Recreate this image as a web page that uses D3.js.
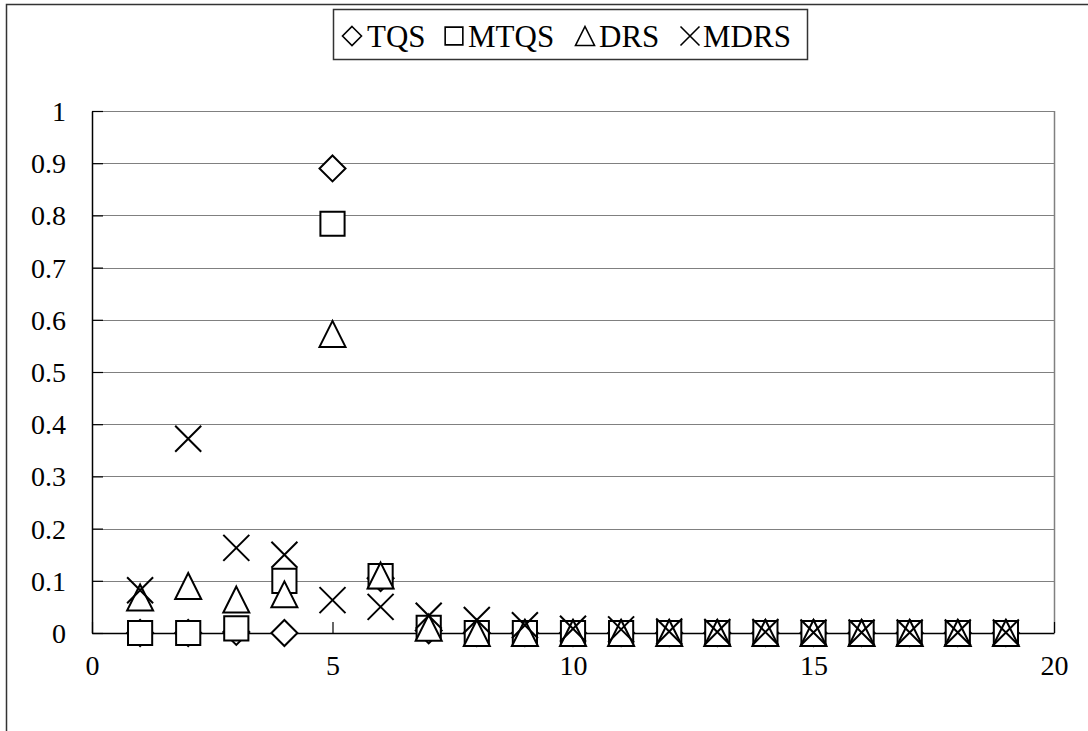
<!DOCTYPE html>
<html>
<head>
<meta charset="utf-8">
<script src="https://cdn.jsdelivr.net/npm/d3@7"></script>
<style>
  html, body { margin: 0; padding: 0; background: #fff; }
  svg { display: block; }
  svg text { font-family: "Liberation Serif", "Times New Roman", Times, serif !important; fill: #000; }
</style>
</head>
<body>
<svg id="chart" width="1088" height="731"></svg>
<script>
// Series values for x = 1..19
const xValues = [1,2,3,4,5,6,7,8,9,10,11,12,13,14,15,16,17,18,19];
const tqs  = [0, 0, 0.002, 0, 0.89, 0.105, 0.005, 0, 0, 0, 0, 0, 0, 0, 0, 0, 0, 0, 0];
const mtqs = [0, 0, 0.009, 0.10, 0.784, 0.109, 0.01, 0, 0, 0, 0, 0, 0, 0, 0, 0, 0, 0, 0];
const drs  = [0.068, 0.09, 0.064, 0.074, 0.573, 0.11, 0.01, 0, 0, 0, 0, 0, 0, 0, 0, 0, 0, 0, 0];
const mdrs = [0.082, 0.372, 0.163, 0.15, 0.063, 0.05, 0.033, 0.025, 0.015, 0.008, 0.007, 0.003, 0.002, 0.002, 0.001, 0.001, 0.001, 0.001, 0.001];

const seriesNames = ["TQS", "MTQS", "DRS", "MDRS"];
const seriesShapes = ["diamond", "square", "triangle", "cross"];
const xTicks = [0, 5, 10, 15, 20];
const yTicks = [0, 0.1, 0.2, 0.3, 0.4, 0.5, 0.6, 0.7, 0.8, 0.9, 1];

const FONT = "'Liberation Serif', 'Times New Roman', Times, serif";
const svg = d3.select("#chart");
const plot = { left: 92, right: 1054, top: 111, bottom: 633 };

const x = d3.scaleLinear().domain([0, 20]).range([plot.left, plot.right]);
const y = d3.scaleLinear().domain([0, 1]).range([plot.bottom, plot.top]);

// marker outline paths centred at (0,0)
function markerPath(shape, s) {
  const h = s / 2;
  switch (shape) {
    case "diamond":  return `M0,${-h}L${h},0L0,${h}L${-h},0Z`;
    case "square":   { const q = h * 0.93; return `M${-q},${-q}H${q}V${q}H${-q}Z`; }
    case "triangle": return `M0,${-h}L${h},${h}H${-h}Z`;
    case "cross":    return `M${-h},${-h}L${h},${h}M${h},${-h}L${-h},${h}`;
  }
}

// outer chart frame
svg.append("rect")
  .attr("x", 6.5).attr("y", 4.5)
  .attr("width", 1200).attr("height", 900)
  .attr("fill", "none").attr("stroke", "#333").attr("stroke-width", 1.5);

// horizontal gridlines
svg.append("g")
  .selectAll("line")
  .data(yTicks.filter(d => d > 0))
  .join("line")
  .attr("x1", plot.left).attr("x2", plot.right)
  .attr("y1", d => Math.round(y(d)) + 0.5).attr("y2", d => Math.round(y(d)) + 0.5)
  .attr("stroke", "#808080").attr("stroke-width", 1);

// right edge of plot area
svg.append("line")
  .attr("x1", plot.right + 0.5).attr("x2", plot.right + 0.5)
  .attr("y1", plot.top).attr("y2", plot.bottom)
  .attr("stroke", "#808080").attr("stroke-width", 1.5);

// y axis: ticks pointing inward, labels on the left
const yAxis = d3.axisLeft(y).tickValues(yTicks).tickSize(-11).tickSizeOuter(0)
  .tickFormat(d => String(+d.toFixed(1)));
const gy = svg.append("g").attr("transform", `translate(${plot.left},0)`).call(yAxis)
  .attr("font-family", FONT).attr("font-size", 28);
gy.select(".domain").attr("stroke", "#000").attr("stroke-width", 1.5);
gy.selectAll(".tick line").attr("stroke", "#000").attr("stroke-width", 1.2);
gy.selectAll(".tick text")
  .attr("x", -26).attr("dy", "0.34em")
  .attr("fill", "#000");

// x axis at y = 0: ticks pointing upward, labels below
const xAxis = d3.axisBottom(x).tickValues(xTicks).tickSize(-11).tickSizeOuter(0);
const gx = svg.append("g").attr("transform", `translate(0,${plot.bottom})`).call(xAxis)
  .attr("font-family", FONT).attr("font-size", 28);
gx.select(".domain").attr("stroke", "#000").attr("stroke-width", 1.5);
gx.selectAll(".tick line").attr("stroke", "#000").attr("stroke-width", 1.2);
gx.selectAll(".tick text")
  .attr("y", 42).attr("dy", 0)
  .attr("fill", "#000");

// markers, drawn series by series
const allSeries = [tqs, mtqs, drs, mdrs];
const markerSize = 26;
allSeries.forEach((vals, i) => {
  const shape = seriesShapes[i];
  svg.append("g")
    .selectAll("path")
    .data(xValues.map((xv, j) => ({ x: xv, y: vals[j] })))
    .join("path")
    .attr("transform", d => `translate(${x(d.x)},${y(d.y)})`)
    .attr("d", markerPath(shape, markerSize))
    .attr("fill", shape === "cross" ? "none" : "#fff")
    .attr("stroke", "#000")
    .attr("stroke-width", 2);
});

// legend
const legend = svg.append("g").attr("font-family", FONT);
legend.append("rect")
  .attr("x", 333.5).attr("y", 9.5).attr("width", 474).attr("height", 50)
  .attr("fill", "#fff").attr("stroke", "#333").attr("stroke-width", 1.5);
const legendItems = [
  { sym: 352, txt: 367 },
  { sym: 454, txt: 468 },
  { sym: 585, txt: 599 },
  { sym: 690, txt: 703 }
];
seriesNames.forEach((name, i) => {
  const it = legendItems[i];
  legend.append("path")
    .attr("transform", `translate(${it.sym},36)`)
    .attr("d", markerPath(seriesShapes[i], 19))
    .attr("fill", "none").attr("stroke", "#000").attr("stroke-width", 1.6);
  legend.append("text")
    .attr("x", it.txt).attr("y", 47)
    .attr("font-size", 31)
    .text(name);
});
</script>
</body>
</html>
